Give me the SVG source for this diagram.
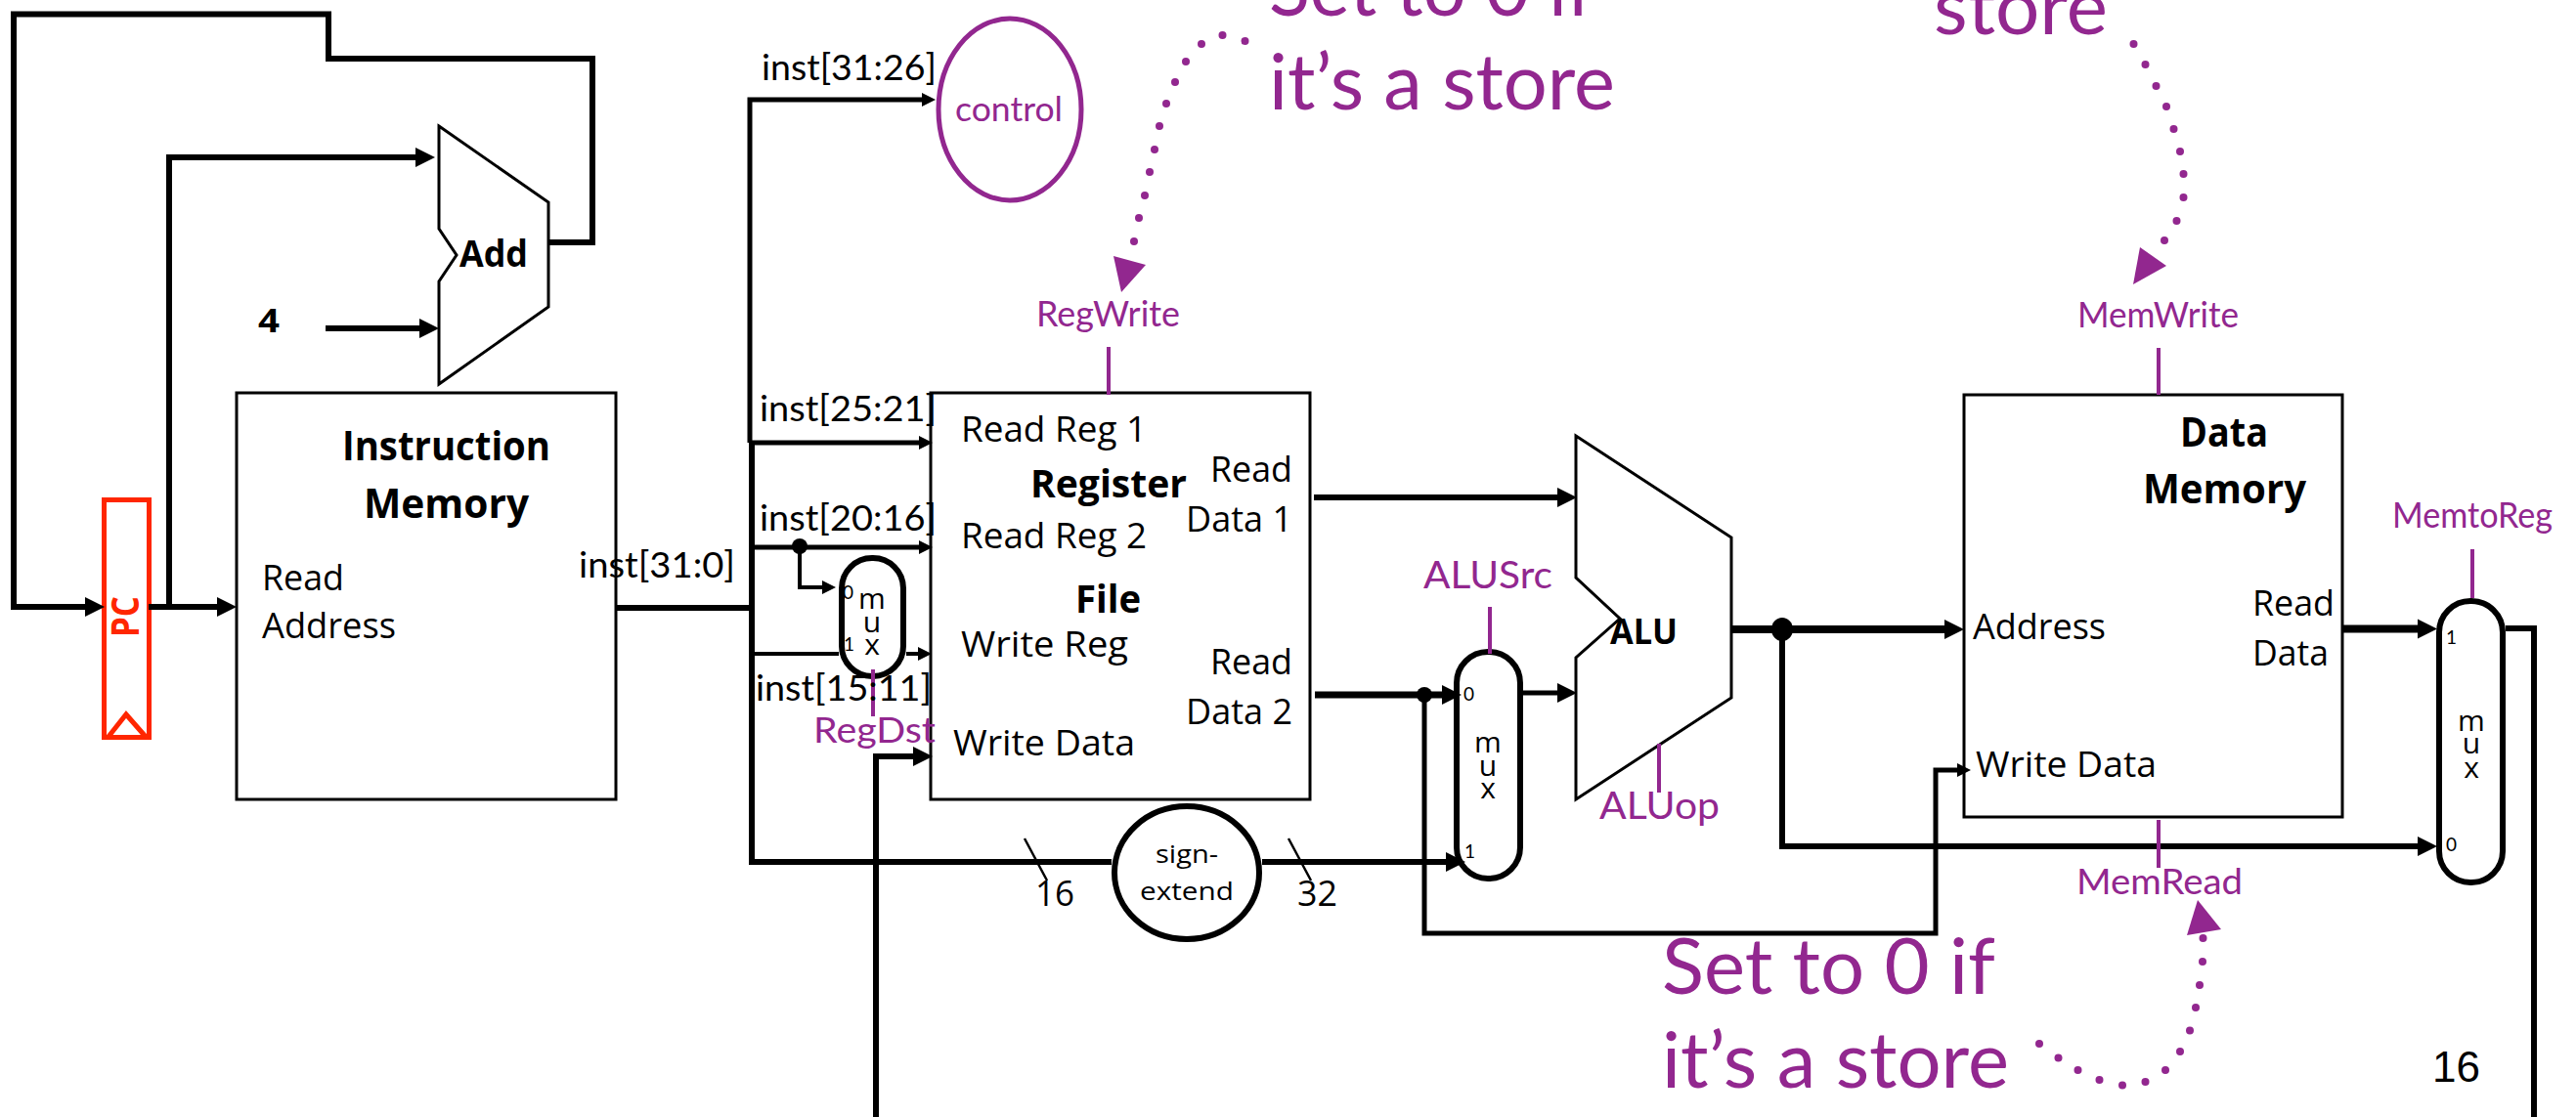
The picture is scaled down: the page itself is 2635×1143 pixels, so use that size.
<svg xmlns="http://www.w3.org/2000/svg" width="2635" height="1143" viewBox="0 0 2635 1143">
<style>
text{font-family:"Open Sans","Liberation Sans",sans-serif;fill:#000;font-size:36px}
.b{font-weight:700}
.g{font-family:Lato,"Liberation Sans",sans-serif}
.p{font-family:Lato,"Liberation Sans",sans-serif;fill:#92278f}
.big{font-size:80px}
.mx{font-size:30px;text-anchor:middle}
.sm{font-size:19px;font-family:Lato,"Liberation Sans",sans-serif}
.box{fill:#fff;stroke:#000;stroke-width:3}
.mux{fill:#fff;stroke:#000;stroke-width:6}
.w{fill:none;stroke:#000;stroke-miterlimit:10}
.ctl{fill:none;stroke:#92278f;stroke-width:4}
.red{fill:none;stroke:#ff2600;stroke-width:5}
.dots{fill:#92278f}
</style>
<defs>
<marker id="aL" markerUnits="userSpaceOnUse" markerWidth="20" markerHeight="22" refX="0" refY="11" orient="auto"><path d="M0 1L20 11L0 21Z"/></marker>
<marker id="aS" markerUnits="userSpaceOnUse" markerWidth="15" markerHeight="14" refX="0" refY="7" orient="auto"><path d="M0 0L14 7L0 14Z"/></marker>
</defs>

<g id="add"><path class="box" d="M449 129L561 207V314L449 393V288L467 261L449 234Z"/><text class="b" x="470" y="273" font-size="38" style="font-size:38px" textLength="70" lengthAdjust="spacingAndGlyphs">Add</text></g>
<g id="four"><text class="b" x="264" y="340" style="font-size:34px" textLength="22" lengthAdjust="spacingAndGlyphs">4</text></g>
<g id="instruction-memory"><rect class="box" x="242" y="402" width="388" height="416"/>
<text class="b" x="350" y="471" style="font-size:42px" textLength="213" lengthAdjust="spacingAndGlyphs">Instruction</text>
<text class="b" x="372" y="530" style="font-size:42px" textLength="169" lengthAdjust="spacingAndGlyphs">Memory</text>
<text x="268" y="604" textLength="84" lengthAdjust="spacingAndGlyphs">Read</text>
<text x="268" y="653" textLength="137" lengthAdjust="spacingAndGlyphs">Address</text></g>
<g id="pc"><rect class="red" x="106.500" y="511.500" width="46" height="243"/><path class="red" d="M110 755L129 731L150 755"/>
<text class="b" transform="translate(142 652) rotate(-90)" style="fill:#ff2600;font-size:40px" textLength="42" lengthAdjust="spacingAndGlyphs">PC</text></g>
<g id="control"><ellipse cx="1033" cy="112" rx="73" ry="93" fill="none" stroke="#92278f" stroke-width="5"/><text class="p" x="977" y="124" style="font-size:34px" textLength="110" lengthAdjust="spacingAndGlyphs">control</text></g>
<g id="register-file"><rect class="box" x="952" y="402" width="388" height="416"/>
<text x="983" y="452" textLength="190" lengthAdjust="spacingAndGlyphs">Read Reg 1</text>
<text x="983" y="561" textLength="190" lengthAdjust="spacingAndGlyphs">Read Reg 2</text>
<text x="983" y="672" textLength="171" lengthAdjust="spacingAndGlyphs">Write Reg</text>
<text x="975" y="773" textLength="186" lengthAdjust="spacingAndGlyphs">Write Data</text>
<text class="b" x="1054" y="509" style="font-size:40px" textLength="160" lengthAdjust="spacingAndGlyphs">Register</text>
<text class="b" x="1100" y="627" style="font-size:40px" textLength="67" lengthAdjust="spacingAndGlyphs">File</text>
<text x="1238" y="493" textLength="84" lengthAdjust="spacingAndGlyphs">Read</text>
<text x="1213" y="544" textLength="109" lengthAdjust="spacingAndGlyphs">Data 1</text>
<text x="1238" y="690" textLength="84" lengthAdjust="spacingAndGlyphs">Read</text>
<text x="1213" y="741" textLength="109" lengthAdjust="spacingAndGlyphs">Data 2</text></g>
<g id="regdst-mux"><rect class="mux" x="861" y="571" width="63" height="121" rx="31" ry="31"/>
<text class="mx" x="892" y="623">m</text><text class="mx" x="892" y="647">u</text><text class="mx" x="892" y="670">x</text>
<text class="sm" x="862" y="613">0</text><text class="sm" x="863" y="666">1</text></g>
<g id="sign-extend"><ellipse cx="1214" cy="893" rx="74" ry="68" fill="#fff" stroke="#000" stroke-width="6"/>
<text x="1182" y="883" style="font-size:26px" textLength="64" lengthAdjust="spacingAndGlyphs">sign-</text>
<text x="1166" y="921" style="font-size:26px" textLength="96" lengthAdjust="spacingAndGlyphs">extend</text></g>
<g id="alusrc-mux"><rect class="mux" x="1490" y="667" width="65" height="232" rx="32" ry="32"/>
<text class="mx" x="1522" y="770">m</text><text class="mx" x="1522" y="794">u</text><text class="mx" x="1522" y="817">x</text>
<text class="sm" x="1497" y="717">0</text><text class="sm" x="1498" y="878">1</text></g>
<g id="alu"><path class="box" d="M1612 446L1771 550V714L1612 818V673L1657 633L1612 591Z"/><text class="b" x="1647" y="659" style="font-size:36px" textLength="69" lengthAdjust="spacingAndGlyphs">ALU</text></g>
<g id="data-memory"><rect class="box" x="2009" y="404" width="387" height="432"/>
<text class="b" x="2230" y="457" style="font-size:42px" textLength="90" lengthAdjust="spacingAndGlyphs">Data</text>
<text class="b" x="2192" y="515" style="font-size:42px" textLength="167" lengthAdjust="spacingAndGlyphs">Memory</text>
<text x="2018" y="654" textLength="136" lengthAdjust="spacingAndGlyphs">Address</text>
<text x="2021" y="795" textLength="185" lengthAdjust="spacingAndGlyphs">Write Data</text>
<text x="2304" y="630" textLength="84" lengthAdjust="spacingAndGlyphs">Read</text>
<text x="2304" y="681" textLength="78" lengthAdjust="spacingAndGlyphs">Data</text></g>
<g id="memtoreg-mux"><rect class="mux" x="2495" y="615" width="65" height="288" rx="32" ry="32"/>
<text class="mx" x="2528" y="748">m</text><text class="mx" x="2528" y="771">u</text><text class="mx" x="2528" y="796">x</text>
<text class="sm" x="2502" y="659">1</text><text class="sm" x="2502" y="871">0</text></g>

<g id="connectors">
<path class="w" stroke-width="6" d="M561 248H606V60H336V14.500H14V621H87" marker-end="url(#aL)"/>
<path class="w" stroke-width="6" d="M173 621V161H425" marker-end="url(#aL)"/>
<path class="w" stroke-width="6" d="M333 336H429" marker-end="url(#aL)"/>
<path class="w" stroke-width="6" d="M152 621H222" marker-end="url(#aL)"/>
<path class="w" stroke-width="6" d="M630 622H766"/>
<path class="w" stroke-width="5" d="M767 453V102H943" marker-end="url(#aS)"/>
<path class="w" stroke-width="5" d="M767 453H940" marker-end="url(#aS)"/>
<path class="w" stroke-width="5" d="M766 560H940" marker-end="url(#aS)"/>
<path class="w" stroke-width="4" d="M818 560V601H841" marker-end="url(#aS)"/>
<circle cx="818" cy="559" r="8"/>
<path class="w" stroke-width="4" d="M767 669H858M927 669H939" marker-end="url(#aS)"/>
<path class="w" stroke-width="6" d="M769 453V882H1137M1291 882H1479" marker-end="url(#aL)"/>
<path class="w" stroke-width="6" d="M896 1143V774H934" marker-end="url(#aL)"/>
<path class="w" stroke-width="2.500" d="M1048 858L1071 901M1318 858L1341 901"/>
<path class="w" stroke-width="6" d="M1344 509H1593" marker-end="url(#aL)"/>
<path class="w" stroke-width="7" d="M1345 711H1475" marker-end="url(#aL)"/>
<ellipse cx="1457" cy="711" rx="8" ry="8"/>
<path class="w" stroke-width="5" d="M1457 711V955H1980V788H2002" marker-end="url(#aS)"/>
<path class="w" stroke-width="5" d="M1558 709H1593" marker-end="url(#aL)"/>
<path class="w" stroke-width="8" d="M1771 644H1989" marker-end="url(#aL)"/>
<ellipse cx="1823" cy="644" rx="11" ry="12"/>
<path class="w" stroke-width="6" d="M1823 644V866H2473" marker-end="url(#aL)"/>
<path class="w" stroke-width="8" d="M2396 643.500H2473" marker-end="url(#aL)"/>
<path class="w" stroke-width="6" d="M2563 643H2592V1143"/>
</g>

<g id="control-lines">
<path class="ctl" d="M893 685V733M1134 355V404M2208 356V404M2529 562V612M1524 621V669M1697 761V811M2208 839V888"/>
</g>
<g id="bus-labels">
<text class="g" x="779" y="82" textLength="179" lengthAdjust="spacingAndGlyphs">inst[31:26]</text>
<text class="g" x="777" y="431" textLength="181" lengthAdjust="spacingAndGlyphs">inst[25:21]</text>
<text class="g" x="777" y="543" textLength="181" lengthAdjust="spacingAndGlyphs">inst[20:16]</text>
<text class="g" x="773" y="717" textLength="180" lengthAdjust="spacingAndGlyphs">inst[15:11]</text>
<text class="g" x="592" y="591" textLength="160" lengthAdjust="spacingAndGlyphs">inst[31:0]</text>
<text x="1059" y="927" textLength="40" lengthAdjust="spacingAndGlyphs">16</text>
<text x="1327" y="927" textLength="41" lengthAdjust="spacingAndGlyphs">32</text>
</g>
<g id="signal-labels">
<text class="p" x="832" y="760" textLength="125" lengthAdjust="spacingAndGlyphs">RegDst</text>
<text class="p" x="1060" y="334" textLength="147" lengthAdjust="spacingAndGlyphs">RegWrite</text>
<text class="p" x="2125" y="335" textLength="165" lengthAdjust="spacingAndGlyphs">MemWrite</text>
<text class="p" x="2447" y="540" textLength="164" lengthAdjust="spacingAndGlyphs">MemtoReg</text>
<text class="p" x="2124" y="915" textLength="170" lengthAdjust="spacingAndGlyphs">MemRead</text>
<text class="p" x="1456" y="602" style="font-size:38px" textLength="132" lengthAdjust="spacingAndGlyphs">ALUSrc</text>
<text class="p" x="1636" y="838" style="font-size:38px" textLength="123" lengthAdjust="spacingAndGlyphs">ALUop</text>
</g>
<g id="annotations">
<text class="p big" x="1298" y="16" textLength="332" lengthAdjust="spacingAndGlyphs">Set to 0 if</text>
<text class="p big" x="1298" y="112" textLength="354" lengthAdjust="spacingAndGlyphs">it’s a store</text>
<text class="p big" x="1978" y="35" textLength="178" lengthAdjust="spacingAndGlyphs">store</text>
<text class="p big" x="1700" y="1017" textLength="341" lengthAdjust="spacingAndGlyphs">Set to 0 if</text>
<text class="p big" x="1700" y="1113" textLength="355" lengthAdjust="spacingAndGlyphs">it’s a store</text>
<g class="dots">
<circle cx="1273.500" cy="42" r="4"/><circle cx="1250.500" cy="36" r="4"/><circle cx="1229" cy="45" r="4"/><circle cx="1213" cy="63" r="4"/><circle cx="1202" cy="84" r="4"/><circle cx="1193" cy="106" r="4"/><circle cx="1186" cy="129" r="4"/><circle cx="1181" cy="153" r="4"/><circle cx="1176" cy="176" r="4"/><circle cx="1171" cy="200" r="4"/><circle cx="1165" cy="223" r="4"/><circle cx="1160" cy="247" r="4"/>
<path d="M1139 262L1172 271L1147 299Z"/>
<circle cx="2182.500" cy="45" r="4"/><circle cx="2194.500" cy="66" r="4"/><circle cx="2205.500" cy="88" r="4"/><circle cx="2216" cy="109" r="4"/><circle cx="2223.500" cy="132" r="4"/><circle cx="2230" cy="155" r="4"/><circle cx="2233.500" cy="178" r="4"/><circle cx="2233.500" cy="202" r="4"/><circle cx="2226.500" cy="226" r="4"/><circle cx="2214" cy="246" r="4"/>
<path d="M2189 253L2216 272L2182 291Z"/>
<circle cx="2253.500" cy="960" r="4"/><circle cx="2253" cy="984" r="4"/><circle cx="2250" cy="1008" r="4"/><circle cx="2246" cy="1031" r="4"/><circle cx="2240" cy="1054.500" r="4"/><circle cx="2230" cy="1076" r="4"/><circle cx="2215" cy="1095" r="4"/><circle cx="2194.500" cy="1107" r="4"/><circle cx="2171" cy="1110.500" r="4"/><circle cx="2147.500" cy="1105" r="4"/><circle cx="2125.500" cy="1095" r="4"/><circle cx="2105.500" cy="1082.500" r="4"/><circle cx="2086" cy="1068" r="4"/>
<path d="M2248 921L2272 951L2237 957Z"/>
</g>
</g>
<g id="page-number"><text x="2488" y="1107" style="font-family:'Liberation Sans',sans-serif;font-size:44px">16</text></g>
</svg>
